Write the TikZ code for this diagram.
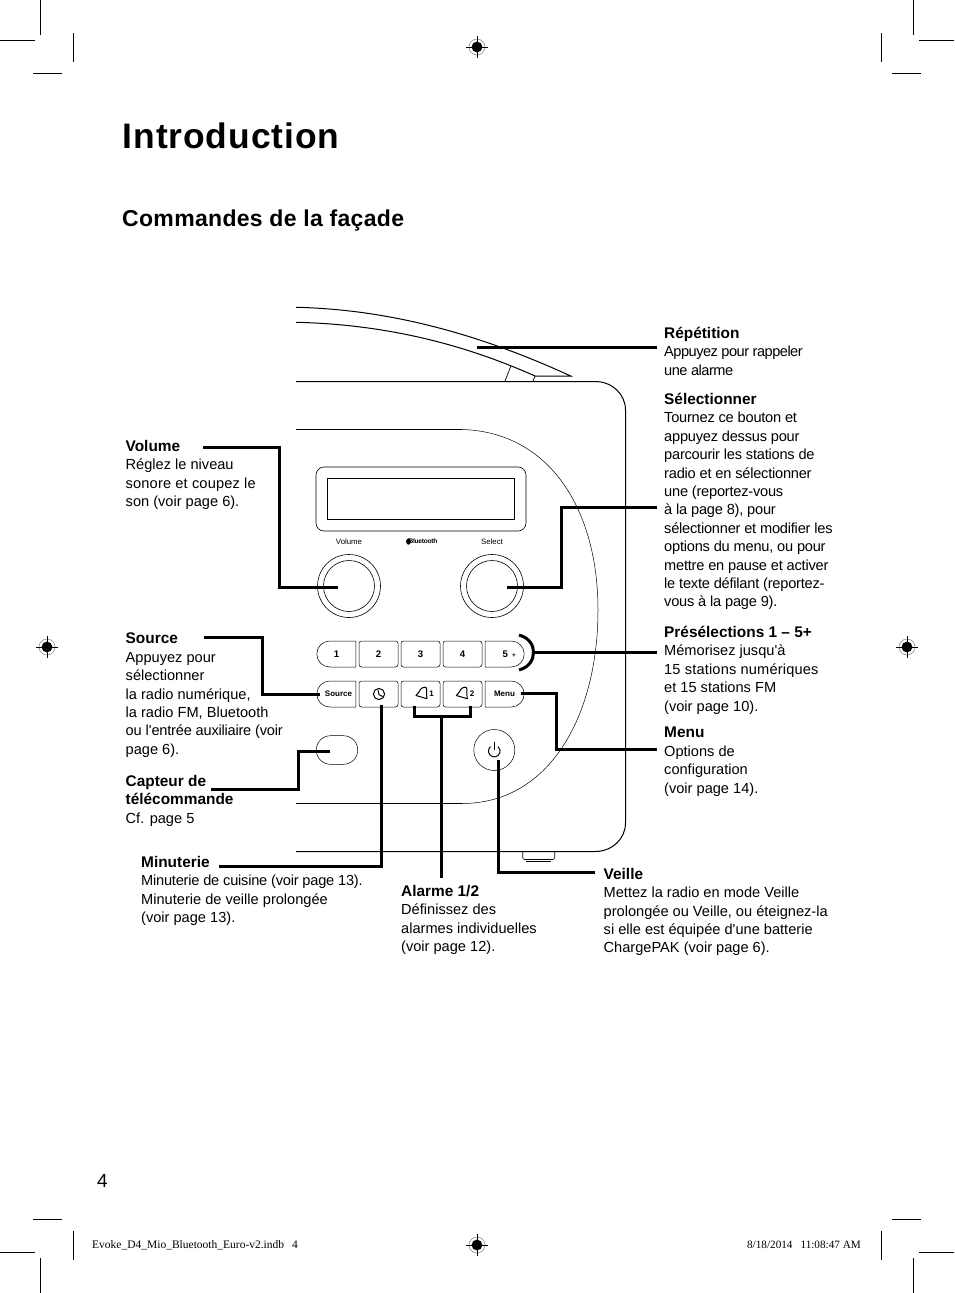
\documentclass[tikz,border=0pt]{standalone}
\usepackage{fontspec}
\setmainfont{Liberation Sans}
\newfontfamily\tightfont[LetterSpace=-3.5]{Liberation Sans}
\newfontfamily\snugfont[LetterSpace=-1.5]{Liberation Sans}
\newfontfamily\loosefont[LetterSpace=1.2]{Liberation Sans}
\newfontfamily\titlefont[LetterSpace=2.6]{Liberation Sans}
\newfontfamily\headfont[LetterSpace=1.4]{Liberation Sans}
\newfontfamily\footfont{Liberation Serif}
\usetikzlibrary{shapes.misc}
\newcommand{\notehead}[1]{{\fontsize{15.4}{18.4}\selectfont\bfseries #1}}
\tikzset{
  note/.style={anchor=north west,inner sep=0pt,align=left,font=\fontsize{14.6}{18.4}\selectfont,
    execute at begin node=\rule{0pt}{12pt}},
  leader/.style={line width=3pt,line cap=butt,line join=miter},
  outline/.style={line width=1pt},
  hairline/.style={line width=0.5pt},
  keybox/.style={draw,line width=0.5pt,rounded corners=2.5pt,minimum width=39pt,minimum height=26pt,
    inner sep=0pt,font=\fontsize{9.6}{10}\selectfont\bfseries},
  endkey/.style={draw,line width=0.5pt,rounded rectangle,minimum width=39pt,minimum height=26pt,
    inner sep=0pt,font=\fontsize{9.6}{10}\selectfont\bfseries},
  facelabel/.style={inner sep=0pt,font=\fontsize{7.8}{9}\selectfont},
  keytext/.style={font=\fontsize{8}{9}\selectfont\bfseries},
  cropline/.style={line width=1pt},
  regmark/.pic={
    \draw[line width=0.5pt,gray] (0,0) circle (8);
    \fill (0,0) circle (5.4);
    \draw[line width=0.8pt] (-11,0)--(11,0);
    \draw[line width=0.8pt] (0,-11)--(0,11);
  },
  bellicon/.pic={
    \draw[line width=1pt,line join=round] (-5.5,2.5)--(-2.5,-1) .. controls (-1,-5) and (2.5,-6.5) .. (4.5,-5.5)
      .. controls (6,-4) and (4.5,1) .. (5.5,5.7)--cycle;
  }
}
\begin{document}
\begin{tikzpicture}[x=1pt,y=-1pt]
  \useasboundingbox (0,0) rectangle (954,1293);
  % crop marks
  \foreach \xa/\ya/\xb/\yb in {40.5/0/40.5/35,0/40.5/35/40.5,73.5/33/73.5/62,33/73.5/62/73.5,
    913.5/0/913.5/35,919/40.5/954/40.5,881.5/33/881.5/62,892/73.5/921/73.5,
    33/1219.5/62/1219.5,73.5/1231/73.5/1260,0/1252.5/35/1252.5,40.5/1258/40.5/1293,
    892/1219.5/921/1219.5,881.5/1231/881.5/1260,919/1252.5/954/1252.5,913.5/1258/913.5/1293}
    \draw[cropline] (\xa,\ya)--(\xb,\yb);
  \foreach \xa/\ya in {477/47,47/647,907/647,477/1245}
    \pic at (\xa,\ya) {regmark};

  % headings
  \node[anchor=base west,inner sep=0pt,font=\titlefont\fontsize{35.4}{40}\selectfont\bfseries] (title) at (122.5,148) {Introduction};
  \node[anchor=base west,inner sep=0pt,font=\headfont\fontsize{23}{26}\selectfont\bfseries] (subtitle) at (122,226) {Commandes de la façade};

  % radio body
  \draw[outline] (296,307.3) .. controls (370,309) and (460,325) .. (570.7,376)--(535,376);
  \draw[outline] (296,322.3) .. controls (370,324) and (450,338) .. (535,376);
  \draw[line width=0.7pt] (511,365.7)--(505,381);
  \draw[line width=0.7pt] (535,376)--(533,381);
  \draw[outline] (296,381.5)--(595,381.5) .. controls (612,381.5) and (625.5,394) .. (625.5,410)
    --(625.5,823) .. controls (625.5,839) and (612,851.5) .. (595,851.5)--(296,851.5);
  \draw[line width=0.8pt] (296,429.5)--(462,429.5);
  \draw[line width=0.8pt] (296,803.5)--(462,803.5);
  \draw[hairline] (462,429.5) .. controls (550,432) and (598,510) .. (598,610)
    .. controls (598,715) and (550,803.5) .. (462,803.5);
  \draw[line width=0.6pt,rounded corners=2pt] (522.7,851)--(522.7,859.5)--(554.7,859.5)--(554.7,851);
  \draw[line width=0.6pt] (526,861)--(551,861);

  % display
  \draw[line width=0.6pt,rounded corners=8pt] (316,467) rectangle (526,531);
  \draw[outline] (327.5,478.5) rectangle (514.5,519.5);
  \node[facelabel] (volumetag) at (349,541.5) {Volume};
  \node[facelabel] (selecttag) at (492,541.5) {Select};
  \node[facelabel,font=\tightfont\fontsize{6.6}{8}\selectfont\bfseries] (bluetag) at (423,541.5) {Bluetooth};
  \fill (408.5,541.5) ellipse (2.4 and 3.2);

  % knobs
  \coordinate (volknob) at (349,586);
  \coordinate (selknob) at (492,586);
  \foreach \knob in {volknob,selknob} {
    \draw[line width=0.6pt] (\knob) circle (31.5);
    \draw[line width=0.6pt] (\knob) circle (25.5);
  }

  % buttons
  \node[endkey,rounded rectangle right arc=none] (presetone) at (336.5,654) {1};
  \node[keybox] (presettwo) at (378.5,654) {2};
  \node[keybox] (presetthree) at (420.5,654) {3};
  \node[keybox] (presetfour) at (462.5,654) {4};
  \node[endkey,rounded rectangle left arc=none] (presetfive) at (504.5,654) {\phantom{+\hspace{4pt}}5\hspace{4pt}{\fontsize{6.5}{8}\selectfont +}};
  \node[endkey,rounded rectangle right arc=none,keytext] (source) at (336.5,694) {\hspace{4pt}Source};
  \node[keybox] (clock) at (378.5,694) {};
  \node[keybox] (alarmone) at (420.5,694) {};
  \node[keybox] (alarmtwo) at (462.5,694) {};
  \node[endkey,rounded rectangle left arc=none,keytext] (menu) at (504.5,694) {Menu};
  \draw[line width=1pt] (379,694) circle (5.6);
  \draw[line width=1pt] (378,690)--(379,694.5)--(382.5,696.5);
  \pic at (421.5,693) {bellicon};
  \pic at (461.8,693) {bellicon};
  \node[facelabel,font=\fontsize{8}{9}\selectfont\bfseries] (alarmonetag) at (431.5,693.5) {1};
  \node[facelabel,font=\fontsize{8}{9}\selectfont\bfseries] (alarmtwotag) at (472,693.5) {2};
  \node[draw,line width=0.5pt,rounded rectangle,minimum width=41.5pt,minimum height=28.6pt,inner sep=0pt] (sensor) at (337,750) {};
  \node[draw,line width=0.5pt,circle,minimum size=41pt,inner sep=0pt] (standby) at (494.3,750) {};
  \draw[line width=1pt] (490.57,746.56) arc (230:-50:5.8);
  \draw[line width=1pt] (494.3,741.5)--(494.3,749.5);

  % texts
  \node[note] (repeat) at (664,327) {\notehead{Répétition}\\{\tightfont Appuyez pour rappeler}\\{\tightfont une alarme}};
  \node[note] (selectnote) at (664,393) {\notehead{Sélectionner}\\{\snugfont Tournez ce bouton et}\\{\snugfont appuyez dessus pour}\\{\snugfont parcourir les stations de}\\{\snugfont radio et en sélectionner}\\{\snugfont une (reportez-vous}\\{\snugfont à la page 8), pour}\\{\snugfont sélectionner et modifier les}\\{\snugfont options du menu, ou pour}\\{\snugfont mettre en pause et activer}\\{\snugfont le texte défilant (reportez-}\\{\snugfont vous à la page 9).}};
  \node[note] (presetnote) at (664,626) {\notehead{Présélections 1 – 5+}\\Mémorisez jusqu\textquotesingle à\\{\loosefont 15 stations numériques}\\et 15 stations FM\\(voir page 10).};
  \node[note] (menunote) at (664,727) {\notehead{Menu}\\Options de\\configuration\\(voir page 14).};
  \node[note] (volumenote) at (125.5,440) {\notehead{Volume}\\Réglez le niveau\\{\loosefont sonore et coupez le}\\son (voir page 6).};
  \node[note] (sourcenote) at (125.5,633) {\notehead{Source}\\Appuyez pour\\sélectionner\\la radio numérique,\\la radio FM, Bluetooth\\{\snugfont ou l\textquotesingle entrée auxiliaire (voir}\\page 6).};
  \node[note] (sensornote) at (125.5,775) {\notehead{Capteur de}\\\notehead{télécommande}\\Cf. page 5};
  \node[note] (timernote) at (141,856) {\notehead{Minuterie}\\{\snugfont Minuterie de cuisine (voir page 13).}\\Minuterie de veille prolongée\\(voir page 13).};
  \node[note] (alarmnote) at (401,885) {\notehead{Alarme 1/2}\\Définissez des\\alarmes individuelles\\(voir page 12).};
  \node[note] (standbynote) at (603.5,868) {\notehead{Veille}\\Mettez la radio en mode Veille\\prolongée ou Veille, ou éteignez-la\\si elle est équipée d\textquotesingle une batterie\\ChargePAK (voir page 6).};

  % footer
  \node[anchor=base,inner sep=0pt,font=\fontsize{19}{22}\selectfont] (pageno) at (102.5,1187) {4};
  \node[anchor=base west,inner sep=0pt,font=\footfont\fontsize{11.5}{12}\selectfont] (slug) at (92,1248.5) {Evoke\_D4\_Mio\_Bluetooth\_Euro-v2.indb\hspace{8pt}4};
  \node[anchor=base east,inner sep=0pt,font=\footfont\fontsize{11.2}{12}\selectfont] (stamp) at (861,1248.5) {8/18/2014\hspace{8pt}11:08:47 AM};

  % leaders
  \coordinate (repeatend) at (477,347);
  \coordinate (repeatfree) at (657,347);
  \coordinate (selectfree) at (657,507);
  \coordinate (selectend) at (507,587);
  \coordinate (volumefree) at (203,447);
  \coordinate (volumeend) at (338,587);
  \coordinate (sourcefree) at (204,637);
  \coordinate (sourceend) at (320,694.5);
  \coordinate (sensorfree) at (211,789);
  \coordinate (sensorend) at (330,751);
  \coordinate (timerfree) at (219,866);
  \coordinate (timerend) at (381,704.5);
  \coordinate (alarmfree) at (441,878);
  \coordinate (alarmhub) at (441,716);
  \coordinate (standbyfree) at (595,872);
  \coordinate (standbyend) at (498,760);
  \coordinate (presetfree) at (657,652);
  \coordinate (presetarc) at (533.5,652);
  \coordinate (menustart) at (521,693);
  \coordinate (menufree) at (657,749);
  \draw[leader] (repeatend)--(repeatfree);
  \draw[leader] (selectend)-|(561,507)--(selectfree);
  \draw[leader] (volumefree)-|(279,587)--(volumeend);
  \draw[leader] (sourcefree)-|(262,694.5)--(sourceend);
  \draw[leader] (sensorfree)-|(298,751)--(sensorend);
  \draw[leader] (timerfree)-|(timerend);
  \draw[leader] (414,705.5)|-(470,716)--(470,705.5);
  \draw[leader] (alarmfree)--(alarmhub);
  \draw[leader] (standbyfree)-|(standbyend);
  \draw[leader] (presetarc)--(presetfree);
  \draw[leader] (519,635) .. controls (530,638) and (533.5,646) .. (533.5,652) .. controls (533.5,659) and (530,667) .. (519,670);
  \draw[leader] (menustart)-|(556,749)--(menufree);
\end{tikzpicture}
\end{document}
